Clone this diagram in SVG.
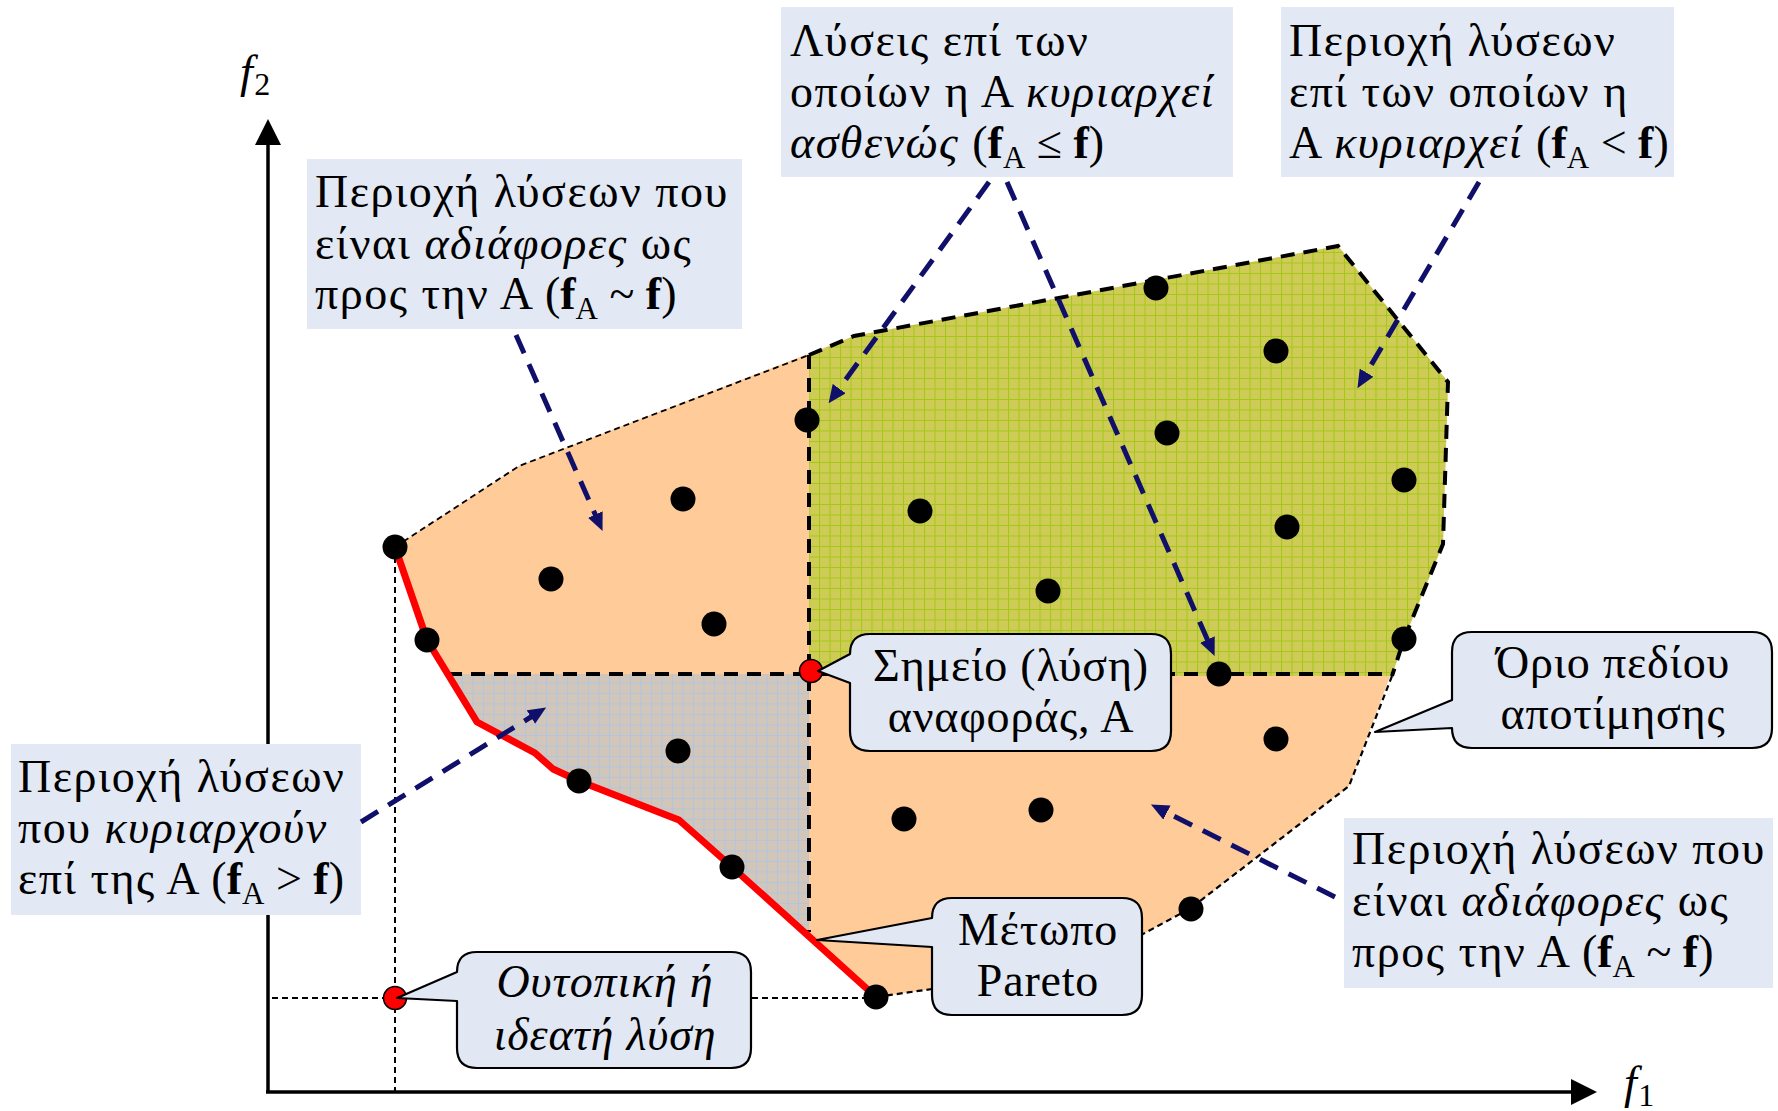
<svg xmlns="http://www.w3.org/2000/svg" width="1778" height="1111" viewBox="0 0 1778 1111">
<style>
.t{font-family:"Liberation Serif","DejaVu Serif",serif;font-size:46px;fill:#000;letter-spacing:1.5px}
.c{letter-spacing:0.8px}
.fm{letter-spacing:0}
.i{font-style:italic}
.b{font-weight:bold}
.box{fill:#E2E9F4}
.call{fill:#E1E8F3;stroke:#000;stroke-width:2.2;stroke-linejoin:round}
.dot{fill:#000}
.rdot{fill:#F00;stroke:#000;stroke-width:1.5}
.thin{fill:none;stroke:#000;stroke-width:1.8;stroke-dasharray:6 4}
.thick{fill:none;stroke:#000;stroke-width:4;stroke-dasharray:14 9}
.arr{fill:none;stroke:#10106A;stroke-width:5;stroke-dasharray:20 12;marker-end:url(#ah)}
</style>
<defs>
<pattern id="pg" width="10.5" height="10.5" patternUnits="userSpaceOnUse"><rect width="10.5" height="10.5" fill="#CECB57"/><path d="M0,0.5H10.5M0.5,0V10.5" stroke="#A3C818" stroke-width="1"/></pattern>
<pattern id="pq" width="10.5" height="10.5" patternUnits="userSpaceOnUse"><rect width="10.5" height="10.5" fill="#D2C6BA"/><path d="M0,0.5H10.5M0.5,0V10.5" stroke="#B0C5DF" stroke-width="1"/></pattern>
<marker id="ah" viewBox="0 0 18 16" refX="1" refY="8" markerWidth="18" markerHeight="16" markerUnits="userSpaceOnUse" orient="auto"><path d="M0,0L18,8L0,16Z" fill="#10106A"/></marker>
<marker id="ax" viewBox="0 0 26 26" refX="1" refY="13" markerWidth="26" markerHeight="26" markerUnits="userSpaceOnUse" orient="auto"><path d="M0,0L26,13L0,26Z" fill="#000"/></marker>
</defs>

<g id="regions">
<polygon id="evaluation-domain" fill="#FFCC99" points="395,547 519,466 854,336 1338,246 1448,382 1443,544 1404,639 1349,786 1191,908 1143,934 932,989 876,997 732,867 679,820 579,781 553,769 535,753 477,722 427,640"/>
<polygon id="dominating-region" fill="url(#pq)" points="448,674 809,674 809,936 732,867 679,820 579,781 553,769 535,753 477,722"/>
<polygon id="dominated-region" fill="url(#pg)" points="809,355 854,336 1338,246 1448,382 1443,544 1404,639 1392,676 809,676"/>
</g>

<g id="boundaries">
<polyline class="thin" points="395,547 519,466 809,355"/>
<polyline class="thick" points="809,355 854,336 1338,246 1448,382 1443,544 1404,639 1392,676"/>
<polyline class="thin" style="stroke-width:2.2" points="1392,676 1349,786 1191,908 1143,934 932,989 876,997"/>
<line class="thick" x1="448" y1="674" x2="1392" y2="674"/>
<line class="thick" x1="809" y1="355" x2="809" y2="932"/>
<line class="thin" style="stroke-width:2" x1="395" y1="547" x2="395" y2="1092"/>
<line class="thin" style="stroke-width:2" x1="272" y1="998" x2="876" y2="998"/>
</g>

<g id="axes">
<line x1="268" y1="1092" x2="268" y2="144" stroke="#000" stroke-width="3.5" marker-end="url(#ax)"/>
<line x1="266" y1="1092" x2="1572" y2="1092" stroke="#000" stroke-width="3.5" marker-end="url(#ax)"/>
<text class="t i" x="240" y="87" font-size="44" letter-spacing="0">f<tspan font-style="normal" font-size="32" dy="8">2</tspan></text>
<text class="t i" x="1624" y="1098" font-size="44" letter-spacing="0">f<tspan font-style="normal" font-size="32" dy="8">1</tspan></text>
</g>

<g id="pareto-front">
<polyline fill="none" stroke="#FF0000" stroke-width="7" stroke-linejoin="round" points="395,547 427,640 477,722 535,753 553,769 579,781 679,820 732,867 876,997"/>
</g>

<g id="solutions">
<circle class="dot" cx="395" cy="547" r="12.5"/>
<circle class="dot" cx="427" cy="640" r="12.5"/>
<circle class="dot" cx="579" cy="781" r="12.5"/>
<circle class="dot" cx="732" cy="867" r="12.5"/>
<circle class="dot" cx="876" cy="997" r="12.5"/>
<circle class="dot" cx="551" cy="579" r="12.5"/>
<circle class="dot" cx="683" cy="499" r="12.5"/>
<circle class="dot" cx="714" cy="624" r="12.5"/>
<circle class="dot" cx="678" cy="751" r="12.5"/>
<circle class="dot" cx="807" cy="420" r="12.5"/>
<circle class="dot" cx="920" cy="511" r="12.5"/>
<circle class="dot" cx="1048" cy="591" r="12.5"/>
<circle class="dot" cx="1156" cy="288" r="12.5"/>
<circle class="dot" cx="1276" cy="351" r="12.5"/>
<circle class="dot" cx="1167" cy="433" r="12.5"/>
<circle class="dot" cx="1404" cy="480" r="12.5"/>
<circle class="dot" cx="1287" cy="527" r="12.5"/>
<circle class="dot" cx="1404" cy="639" r="12.5"/>
<circle class="dot" cx="1219" cy="674" r="12.5"/>
<circle class="dot" cx="1276" cy="739" r="12.5"/>
<circle class="dot" cx="1041" cy="810" r="12.5"/>
<circle class="dot" cx="904" cy="819" r="12.5"/>
<circle class="dot" cx="1191" cy="909" r="12.5"/>
<circle class="rdot" cx="811" cy="671" r="11.5"/>
<circle class="rdot" cx="395" cy="998" r="11.5"/>
</g>

<g id="callout-reference">
<path class="call" d="M818,671L850,654Q850,634 870,634L1151,634Q1171,634 1171,654L1171,731Q1171,751 1151,751L870,751Q850,751 850,731L850,683Z"/>
<text class="t c" text-anchor="middle" x="1011" y="681">Σημείο (λύση)</text>
<text class="t c" text-anchor="middle" x="1011" y="732">αναφοράς, Α</text>
</g>
<g id="callout-boundary">
<path class="call" d="M1375,732L1452,700L1452,652Q1452,632 1472,632L1752,632Q1772,632 1772,652L1772,728Q1772,748 1752,748L1472,748Q1452,748 1452,728Z"/>
<text class="t c" text-anchor="middle" x="1613" y="678">Όριο πεδίου</text>
<text class="t c" text-anchor="middle" x="1613" y="729">αποτίμησης</text>
</g>
<g id="callout-pareto">
<path class="call" d="M817,940L932,918Q932,898 952,898L1122,898Q1142,898 1142,918L1142,995Q1142,1015 1122,1015L952,1015Q932,1015 932,995L932,947Z"/>
<text class="t c" text-anchor="middle" x="1038" y="945">Μέτωπο</text>
<text class="t c" text-anchor="middle" x="1038" y="996">Pareto</text>
</g>
<g id="callout-ideal">
<path class="call" d="M397,998L457,972Q457,952 477,952L731,952Q751,952 751,972L751,1048Q751,1068 731,1068L477,1068Q457,1068 457,1048L457,1001Z"/>
<text class="t i c" text-anchor="middle" x="605" y="997">Ουτοπική ή</text>
<text class="t i c" text-anchor="middle" x="605" y="1050">ιδεατή λύση</text>
</g>

<g id="box-indifferent-top">
<rect class="box" x="307" y="159" width="435" height="170"/>
<text class="t" x="315" y="207">Περιοχή λύσεων που</text>
<text class="t" x="315" y="259">είναι <tspan class="i">αδιάφορες</tspan> ως</text>
<text class="t" x="315" y="309">προς την Α <tspan class="fm">(<tspan class="b">f</tspan><tspan font-size="31" dy="10">A</tspan><tspan dy="-10"> ~ </tspan><tspan class="b">f</tspan>)</tspan></text>
</g>
<g id="box-weakly-dominated">
<rect class="box" x="781" y="7" width="452" height="170"/>
<text class="t" x="790" y="56">Λύσεις επί των</text>
<text class="t" x="790" y="107">οποίων η Α <tspan class="i">κυριαρχεί</tspan></text>
<text class="t" x="790" y="158"><tspan class="i">ασθενώς</tspan> <tspan class="fm">(<tspan class="b">f</tspan><tspan font-size="31" dy="10">A</tspan><tspan dy="-10"> ≤ </tspan><tspan class="b">f</tspan>)</tspan></text>
</g>
<g id="box-dominated">
<rect class="box" x="1281" y="7" width="393" height="170"/>
<text class="t" x="1289" y="56">Περιοχή λύσεων</text>
<text class="t" x="1289" y="107">επί των οποίων η</text>
<text class="t" x="1289" y="158">Α <tspan class="i">κυριαρχεί</tspan> <tspan class="fm">(<tspan class="b">f</tspan><tspan font-size="31" dy="10">A</tspan><tspan dy="-10"> &lt; </tspan><tspan class="b">f</tspan>)</tspan></text>
</g>
<g id="box-dominating">
<rect class="box" x="11" y="744" width="350" height="171"/>
<text class="t" x="18" y="792">Περιοχή λύσεων</text>
<text class="t" x="18" y="843">που <tspan class="i">κυριαρχούν</tspan></text>
<text class="t" x="18" y="894">επί της Α <tspan class="fm">(<tspan class="b">f</tspan><tspan font-size="31" dy="10">A</tspan><tspan dy="-10"> &gt; </tspan><tspan class="b">f</tspan>)</tspan></text>
</g>
<g id="box-indifferent-bottom">
<rect class="box" x="1344" y="818" width="429" height="170"/>
<text class="t" x="1352" y="864">Περιοχή λύσεων που</text>
<text class="t" x="1352" y="916">είναι <tspan class="i">αδιάφορες</tspan> ως</text>
<text class="t" x="1352" y="967">προς την Α <tspan class="fm">(<tspan class="b">f</tspan><tspan font-size="31" dy="10">A</tspan><tspan dy="-10"> ~ </tspan><tspan class="b">f</tspan>)</tspan></text>
</g>

<g id="connectors">
<line class="arr" x1="516" y1="335" x2="595.7" y2="515.5"/>
<line class="arr" x1="989" y1="182" x2="838.6" y2="389.4"/>
<line class="arr" x1="1007" y1="182" x2="1207.8" y2="640.5"/>
<line class="arr" x1="1479" y1="182" x2="1366.1" y2="373.5"/>
<line class="arr" x1="361" y1="822" x2="531.7" y2="716.5"/>
<line class="arr" x1="1335" y1="897" x2="1166.1" y2="812.1"/>
</g>
</svg>
